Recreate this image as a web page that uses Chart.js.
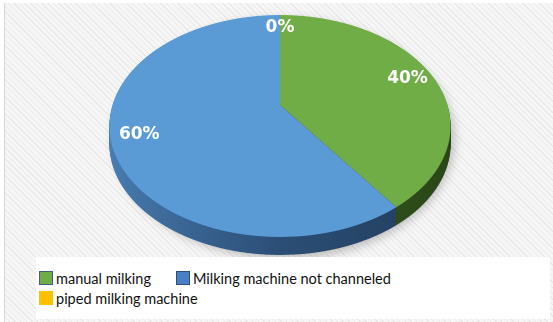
<!DOCTYPE html>
<html lang="en">
<head>
<meta charset="UTF-8">
<title>Milking method</title>
<script src="https://cdn.jsdelivr.net/npm/chart.js"></script>
<style>
  body { margin: 0; background: #fff; width: 553px; height: 322px; overflow: hidden; position: relative; font-family: Lato, "Liberation Sans", sans-serif; }
  #frame { position: absolute; left: 4px; top: 3px; width: 549px; height: 319px; border-left: 1px solid #d6d6d6;
    background: repeating-linear-gradient(45deg, #f6f6f6 0 3px, #e9e9e9 3px 4px); }
  canvas { position: absolute; left: 0; top: 0; }
  #legend { position: absolute; left: 36px; top: 257px; width: 514px; height: 62px; background: #fff; box-sizing: border-box; padding: 11px 0 0 3px; }
  #legend ul { list-style: none; margin: 0; padding: 0; width: 420px; display: flex; flex-wrap: wrap; }
  #legend li { display: flex; align-items: center; height: 20px; margin-right: 25px; font-size: 14.5px; color: #111; }
  #legend .box { width: 14px; height: 14px; box-sizing: border-box; margin-right: 3px; }
</style>
</head>
<body>
<div id="frame"></div>
<canvas id="pie" width="553" height="322"></canvas>
<div id="legend"><ul></ul></div>

<script>
const categories = ['manual milking', 'Milking machine not channeled', 'piped milking machine'];
const shares = [40, 60, 0];
const sliceColors = ['#70AD47', '#5B9BD5', '#FFC000'];
const markerColors = ['#70AD47', '#4a7ec6', '#FFC000'];
const markerBorders = ['#3d5f8e', '#2e4d7a', '#FFC000'];
// side (depth) shading for each slice: left -> middle -> right
const sideShades = [['#3b5f26', '#33531f', '#2a4619'], ['#4a7fb5', '#2b4e76', '#1f3a56'], ['#b08400', '#8a6800', '#6e5300']];

// how the 3D disc sits in the page
const view = { cx: 280, apexY: 105, top: 15, bottom: 237, halfW: 167.5, depth: 18, labelAt: 0.84 };
const up = view.apexY - view.top, down = view.bottom - view.apexY;
const k = (up / down - 1) / (up / down + 1);
const B = up * (1 - k);

function project(u, v) {
  const w = 1 + k * v;
  return { x: view.cx + view.halfW * u / w, y: view.apexY + B * v / w };
}
function vAt(y) {
  const d = y - view.apexY;
  return d / (B - k * d);
}

// draw something in native pie space, one pixel row at a time, with a perspective-ish mapping
function paintStrips(ctx, ref, shift, vMin, painter) {
  const r0 = ref.outerRadius;
  for (let y = view.top - 1; y < view.bottom + 1; y++) {
    const ym = y + 0.5;
    const v = vAt(ym);
    if (v < -1.03 || v > 1.03 || v < vMin) continue;
    const w = 1 + k * v;
    const sx = view.halfW / w, sy = B / (w * w);
    const a = sx / r0, d = sy / r0;
    ctx.save();
    ctx.setTransform(1, 0, 0, 1, 0, 0);
    ctx.beginPath();
    ctx.rect(0, y + shift, 553, 1);
    ctx.clip();
    ctx.setTransform(a, 0, 0, d, view.cx - a * ref.x, ym + shift - sy * v - d * ref.y);
    painter();
    ctx.restore();
  }
}

const pie3d = {
  id: 'pie3d',
  beforeDatasetsDraw(chart) {
    const ctx = chart.ctx;
    const arcs = chart.getDatasetMeta(0).data;
    const ref = arcs[0];

    // soft shadow under the disc
    ctx.save();
    ctx.filter = 'blur(5px)';
    ctx.fillStyle = 'rgba(0,0,0,0.22)';
    ctx.beginPath();
    ctx.ellipse(view.cx + 4, (view.top + view.bottom + view.depth) / 2 + 4, view.halfW * 1.02, (view.bottom + view.depth - view.top) / 2, 0, 0, Math.PI * 2);
    ctx.fill();
    ctx.restore();

    // side walls
    const sideFills = sideShades.map(s => {
      const g = ctx.createLinearGradient(ref.x - ref.outerRadius, 0, ref.x + ref.outerRadius, 0);
      g.addColorStop(0, s[0]); g.addColorStop(0.5, s[1]); g.addColorStop(1, s[2]);
      return g;
    });
    for (let o = view.depth; o >= 1; o--) {
      paintStrips(ctx, ref, o, -0.2, () => {
        arcs.forEach((arc, i) => {
          if (arc.endAngle - arc.startAngle < 1e-6) return;
          ctx.fillStyle = sideFills[i];
          ctx.beginPath();
          ctx.moveTo(arc.x, arc.y);
          ctx.arc(arc.x, arc.y, arc.outerRadius, arc.startAngle, arc.endAngle);
          ctx.closePath();
          ctx.fill();
        });
      });
    }

    // top face, drawn by the library's own arc elements
    paintStrips(ctx, ref, 0, -2, () => arcs.forEach(arc => arc.draw(ctx)));

    // percentage labels
    ctx.save();
    ctx.setTransform(1, 0, 0, 1, 0, 0);
    ctx.fillStyle = '#fff';
    ctx.font = 'bold 17px "DejaVu Sans"';
    ctx.textAlign = 'center';
    ctx.textBaseline = 'middle';
    arcs.forEach((arc, i) => {
      const mid = (arc.startAngle + arc.endAngle) / 2;
      const p = project(view.labelAt * Math.cos(mid), view.labelAt * Math.sin(mid));
      ctx.fillText(shares[i] + '%', p.x, p.y);
    });
    ctx.restore();
    return false;
  }
};

new Chart(document.getElementById('pie'), {
  type: 'pie',
  data: {
    labels: categories,
    datasets: [{ data: shares, backgroundColor: sliceColors, borderWidth: 0 }]
  },
  options: {
    responsive: false,
    animation: false,
    layout: { padding: 10 },
    plugins: { legend: { display: false }, tooltip: { enabled: false } }
  },
  plugins: [pie3d]
});

// legend
const ul = document.querySelector('#legend ul');
categories.forEach((name, i) => {
  const li = document.createElement('li');
  li.innerHTML = `<span class="box" style="background:${markerColors[i]};border:1px solid ${markerBorders[i]}"></span>${name}`;
  ul.appendChild(li);
});
</script>
</body>
</html>
